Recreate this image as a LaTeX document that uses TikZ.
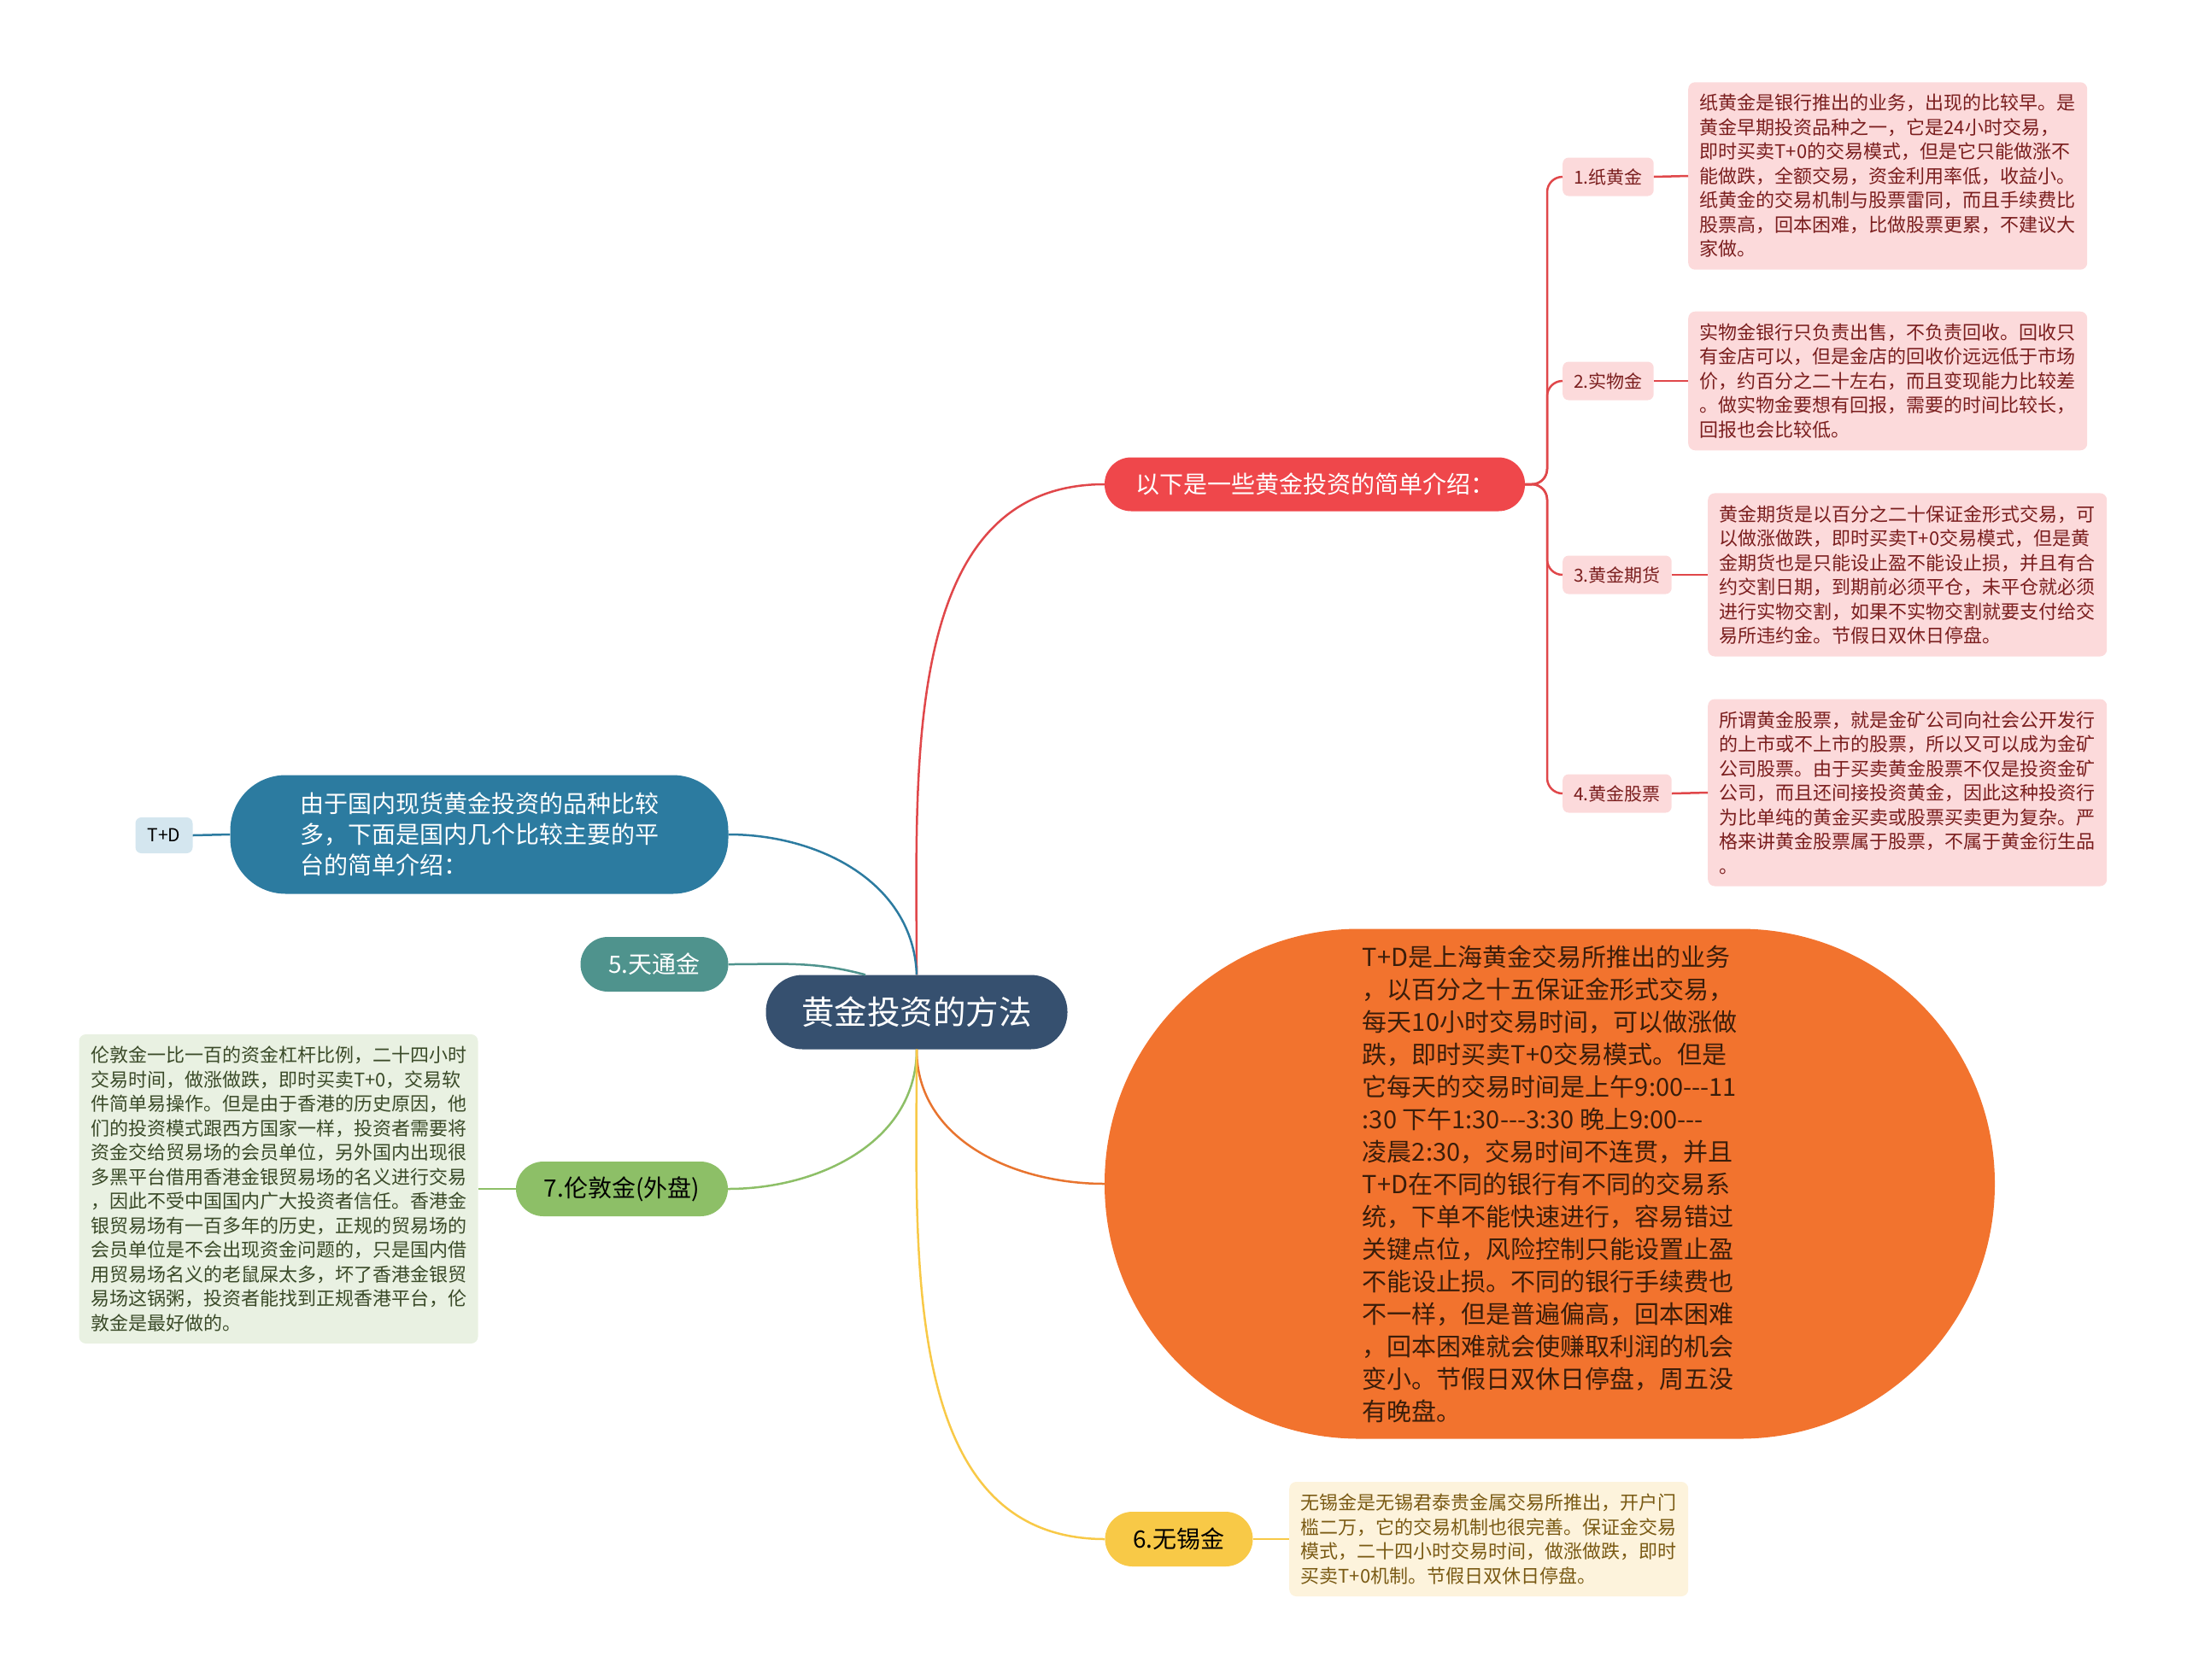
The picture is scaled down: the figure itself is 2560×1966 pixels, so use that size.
\documentclass[tikz,border=0pt]{standalone}
\usepackage{fontspec}
\setmainfont{Noto Sans CJK SC}
\definecolor{rootblue}{HTML}{36506F}
\definecolor{redmain}{HTML}{EF474B}
\definecolor{redline}{HTML}{E0474A}
\definecolor{redfill}{HTML}{FCDADB}
\definecolor{redtext}{HTML}{7A1E1E}
\definecolor{bluemain}{HTML}{2C7BA0}
\definecolor{tdfill}{HTML}{D4E6EF}
\definecolor{tealmain}{HTML}{4F938D}
\definecolor{greenmain}{HTML}{8DBF67}
\definecolor{greenfill}{HTML}{E9F1E2}
\definecolor{greentext}{HTML}{3A4A28}
\definecolor{orangemain}{HTML}{F2732E}
\definecolor{orangeline}{HTML}{E8742F}
\definecolor{orangetext}{HTML}{3A1D0A}
\definecolor{yellowmain}{HTML}{F8C947}
\definecolor{yellowfill}{HTML}{FDF3DC}
\definecolor{yellowtext}{HTML}{7A5A14}
\begin{document}
\begin{tikzpicture}[x=1pt, y=1pt,
  rootnode/.style={fill=rootblue, text=white, rounded corners=43pt, minimum width=353pt, minimum height=87pt, inner sep=0pt, font=\fontsize{38.5}{44}\selectfont},
  branch/.style={rounded corners=32pt, minimum height=64pt, inner sep=0pt, font=\fontsize{28}{36}\selectfont},
  sublabel/.style={fill=redfill, text=redtext, rounded corners=7pt, minimum height=45pt, inner xsep=13pt, inner ysep=0pt, font=\fontsize{21}{26}\selectfont},
  note/.style={rounded corners=8pt, align=left, inner xsep=13pt, inner ysep=14pt, minimum width=467pt, font=\fontsize{22}{28.5}\selectfont},
  link/.style={line width=2.5pt}
]
  \useasboundingbox (0,0) rectangle (2560,-1966);

  \node[rootnode] (root) at (1073,-1185) {黄金投资的方法};

  \node[branch, fill=redmain, text=white, minimum width=492pt, rounded corners=31pt, minimum height=63pt, font=\fontsize{28}{32}\selectfont] (intro) at (1539,-567) {以下是一些黄金投资的简单介绍：};

  \node[sublabel, anchor=west] (l1) at (1829,-207) {1.纸黄金};
  \node[sublabel, anchor=west] (l2) at (1829,-446) {2.实物金};
  \node[sublabel, anchor=west] (l3) at (1829,-673) {3.黄金期货};
  \node[sublabel, anchor=west] (l4) at (1829,-929) {4.黄金股票};

  \node[note, fill=redfill, text=redtext, anchor=west] (d1) at (1976,-206) {纸黄金是银行推出的业务，出现的比较早。是\\黄金早期投资品种之一，它是24小时交易，\\即时买卖T+0的交易模式，但是它只能做涨不\\能做跌，全额交易，资金利用率低，收益小。\\纸黄金的交易机制与股票雷同，而且手续费比\\股票高，回本困难，比做股票更累，不建议大\\家做。};
  \node[note, fill=redfill, text=redtext, anchor=west] (d2) at (1976,-446) {实物金银行只负责出售，不负责回收。回收只\\有金店可以，但是金店的回收价远远低于市场\\价，约百分之二十左右，而且变现能力比较差\\。做实物金要想有回报，需要的时间比较长，\\回报也会比较低。};
  \node[note, fill=redfill, text=redtext, anchor=west] (d3) at (1999,-673) {黄金期货是以百分之二十保证金形式交易，可\\以做涨做跌，即时买卖T+0交易模式，但是黄\\金期货也是只能设止盈不能设止损，并且有合\\约交割日期，到期前必须平仓，未平仓就必须\\进行实物交割，如果不实物交割就要支付给交\\易所违约金。节假日双休日停盘。};
  \node[note, fill=redfill, text=redtext, anchor=west] (d4) at (1999,-928) {所谓黄金股票，就是金矿公司向社会公开发行\\的上市或不上市的股票，所以又可以成为金矿\\公司股票。由于买卖黄金股票不仅是投资金矿\\公司，而且还间接投资黄金，因此这种投资行\\为比单纯的黄金买卖或股票买卖更为复杂。严\\格来讲黄金股票属于股票，不属于黄金衍生品\\。};

  \node[branch, fill=bluemain, text=white, minimum width=583pt, minimum height=139pt, rounded corners=65pt, align=left] (platform) at (561,-977) {由于国内现货黄金投资的品种比较\\多，下面是国内几个比较主要的平\\台的简单介绍：};
  \node[fill=tdfill, rounded corners=7pt, minimum width=67pt, minimum height=42pt, inner sep=0pt, font=\fontsize{21}{26}\selectfont] (td) at (192,-978) {T+D};

  \node[branch, fill=tealmain, text=white, minimum width=173pt] (tiantong) at (766,-1129) {5.天通金};

  \node[branch, fill=greenmain, text=black, minimum width=248pt] (london) at (728,-1392) {7.伦敦金(外盘)};
  \node[note, fill=greenfill, text=greentext] (dlondon) at (326,-1392) {伦敦金一比一百的资金杠杆比例，二十四小时\\交易时间，做涨做跌，即时买卖T+0，交易软\\件简单易操作。但是由于香港的历史原因，他\\们的投资模式跟西方国家一样，投资者需要将\\资金交给贸易场的会员单位，另外国内出现很\\多黑平台借用香港金银贸易场的名义进行交易\\，因此不受中国国内广大投资者信任。香港金\\银贸易场有一百多年的历史，正规的贸易场的\\会员单位是不会出现资金问题的，只是国内借\\用贸易场名义的老鼠屎太多，坏了香港金银贸\\易场这锅粥，投资者能找到正规香港平台，伦\\敦金是最好做的。};

  \node[fill=orangemain, text=orangetext, rounded corners=298pt, minimum width=1042pt, minimum height=597pt, inner sep=0pt, align=left, font=\fontsize{29}{38}\selectfont] (tplusd) at (1814,-1386) {T+D是上海黄金交易所推出的业务\\，以百分之十五保证金形式交易，\\每天10小时交易时间，可以做涨做\\跌，即时买卖T+0交易模式。但是\\它每天的交易时间是上午9:00-{}-{}-11\\:30 下午1:30-{}-{}-3:30 晚上9:00-{}-{}-\\凌晨2:30，交易时间不连贯，并且\\T+D在不同的银行有不同的交易系\\统，下单不能快速进行，容易错过\\关键点位，风险控制只能设置止盈\\不能设止损。不同的银行手续费也\\不一样，但是普遍偏高，回本困难\\，回本困难就会使赚取利润的机会\\变小。节假日双休日停盘，周五没\\有晚盘。};

  \node[branch, fill=yellowmain, text=black, minimum width=173pt] (wuxi) at (1380,-1802) {6.无锡金};
  \node[note, fill=yellowfill, text=yellowtext, anchor=west] (dwuxi) at (1509,-1802) {无锡金是无锡君泰贵金属交易所推出，开户门\\槛二万，它的交易机制也很完善。保证金交易\\模式，二十四小时交易时间，做涨做跌，即时\\买卖T+0机制。节假日双休日停盘。};

  \draw[link, redline] (root.north) to[out=90, in=180] (intro.west);
  \foreach \i in {1,2,3,4} {
    \draw[link, redline, rounded corners=18pt] (intro.east) -- (1811,-567) |- (l\i.west);
    \draw[link, redline] (l\i.east) -- (d\i.west);
  }
  \draw[link, bluemain] (root.north) to[out=92, in=0] (platform.east);
  \draw[link, bluemain] (platform.west) -- (td.east);
  \draw[link, tealmain] ([xshift=-60pt]root.north) to[out=165, in=0] (tiantong.east);
  \draw[link, greenmain] (root.south) to[out=-90, in=0] (london.east);
  \draw[link, greenmain] (london.west) -- (dlondon.east);
  \draw[link, orangeline] (root.south) to[out=-90, in=180] (tplusd.west);
  \draw[link, yellowmain] (root.south) to[out=-90, in=180] (wuxi.west);
  \draw[link, yellowmain] (wuxi.east) -- (dwuxi.west);
\end{tikzpicture}
\end{document}
